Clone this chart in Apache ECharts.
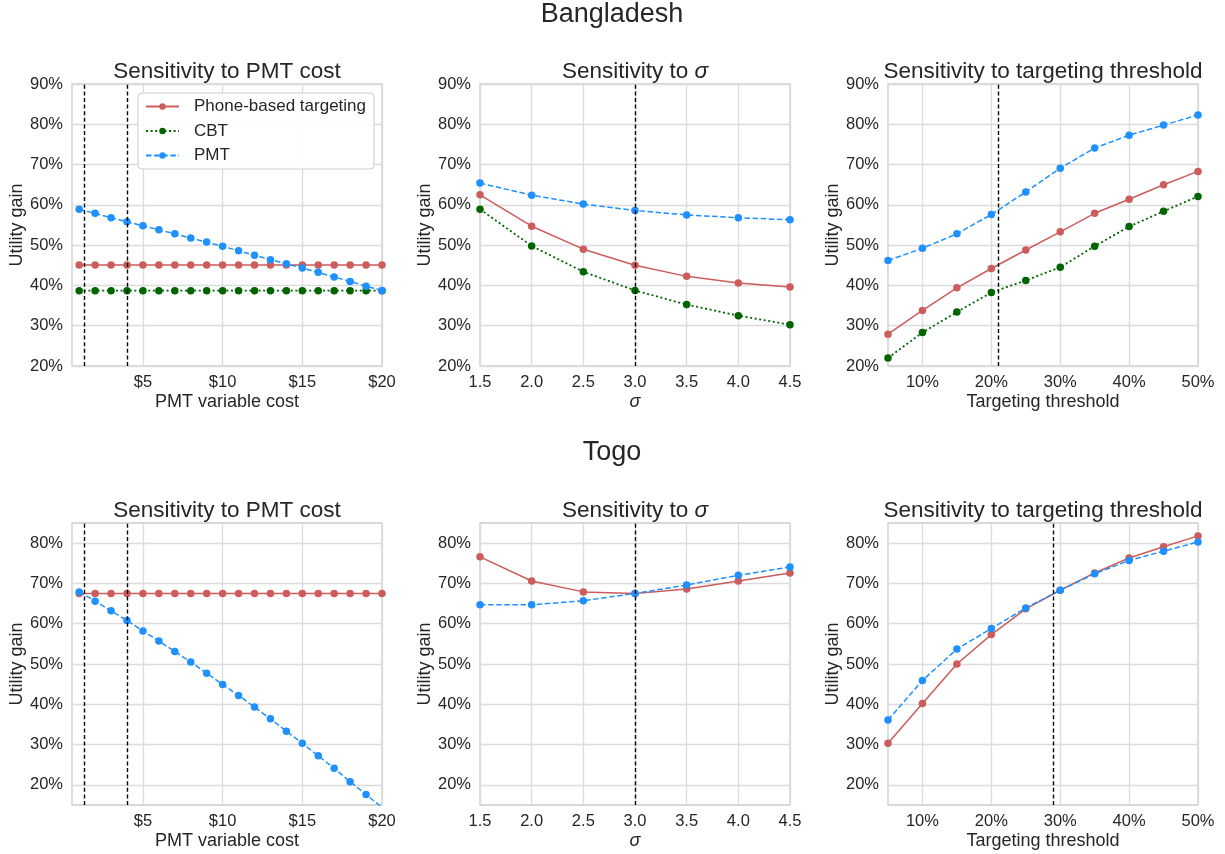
<!DOCTYPE html>
<html>
<head>
<meta charset="utf-8">
<script src="https://cdn.jsdelivr.net/npm/echarts@6/dist/echarts.min.js"></script>
<style>
html, body { margin: 0; padding: 0; background: #fff; }
#chart { width: 1225px; height: 854px; }
</style>
</head>
<body>
<div id="chart"></div>
<script>
// x values
const pmtCost = [1, 2, 3, 4, 5, 6, 7, 8, 9, 10, 11, 12, 13, 14, 15, 16, 17, 18, 19, 20];
const sigmaVals = [1.5, 2.0, 2.5, 3.0, 3.5, 4.0, 4.5];
const thresholds = [5, 10, 15, 20, 25, 30, 35, 40, 45, 50];

// tick labels
const costTicks = [5, 10, 15, 20];
const sigmaTicks = [1.5, 2.0, 2.5, 3.0, 3.5, 4.0, 4.5];
const thrTicks = [10, 20, 30, 40, 50];
const yTicksTop = [20, 30, 40, 50, 60, 70, 80, 90];
const yTicksBottom = [20, 30, 40, 50, 60, 70, 80];

// Bangladesh (utility gain, %)
const bgdCostPhone = [45.1, 45.1, 45.1, 45.1, 45.1, 45.1, 45.1, 45.1, 45.1, 45.1, 45.1, 45.1, 45.1, 45.1, 45.1, 45.1, 45.1, 45.1, 45.1, 45.1];
const bgdCostCbt = [38.7, 38.7, 38.7, 38.7, 38.7, 38.7, 38.7, 38.7, 38.7, 38.7, 38.7, 38.7, 38.7, 38.7, 38.7, 38.7, 38.7, 38.7, 38.7, 38.7];
const bgdCostPmt = [58.9, 57.9, 56.8, 55.8, 54.8, 53.8, 52.8, 51.75, 50.75, 49.7, 48.6, 47.5, 46.4, 45.4, 44.3, 43.25, 42.1, 41.0, 39.8, 38.75];
const bgdSigmaPhone = [62.5, 54.7, 49.0, 45.0, 42.25, 40.6, 39.6];
const bgdSigmaCbt = [58.9, 49.8, 43.4, 38.75, 35.25, 32.5, 30.25];
const bgdSigmaPmt = [65.4, 62.4, 60.2, 58.6, 57.5, 56.8, 56.3];
const bgdThrPhone = [27.9, 33.8, 39.4, 44.2, 48.8, 53.3, 57.9, 61.4, 65.0, 68.3];
const bgdThrCbt = [22.0, 28.3, 33.4, 38.25, 41.25, 44.5, 49.75, 54.6, 58.4, 62.1];
const bgdThrPmt = [46.2, 49.2, 52.8, 57.6, 63.2, 69.1, 74.1, 77.3, 79.8, 82.3];

// Togo (utility gain, %)
const tgoCostPhone = [67.5, 67.5, 67.5, 67.5, 67.5, 67.5, 67.5, 67.5, 67.5, 67.5, 67.5, 67.5, 67.5, 67.5, 67.5, 67.5, 67.5, 67.5, 67.5, 67.5];
const tgoCostPmt = [67.9, 65.6, 63.2, 60.8, 58.2, 55.7, 53.1, 50.5, 47.7, 44.9, 42.2, 39.3, 36.4, 33.3, 30.3, 27.2, 24.1, 20.8, 17.6, 14.4];
const tgoSigmaPhone = [76.6, 70.6, 67.9, 67.5, 68.6, 70.6, 72.6];
const tgoSigmaPmt = [64.7, 64.7, 65.7, 67.5, 69.6, 72.0, 74.1];
const tgoThrPhone = [30.3, 40.2, 50.0, 57.3, 63.7, 68.3, 72.6, 76.3, 79.1, 81.8];
const tgoThrPmt = [36.1, 45.9, 53.7, 58.8, 63.9, 68.3, 72.4, 75.7, 78.0, 80.3];

// reference lines
const costVlines = [1.3, 4];
const sigmaVline = [3];
const bgdThrVline = [21];
const tgoThrVline = [29];

const font = "'Liberation Sans', Arial, sans-serif";
const ink = '#262626';
const colLeft = [72, 480, 888];
const rowTop = [84, 523];
const plotW = 310, plotH = 282;

const styles = {
    'Phone-based targeting': { color: '#CD5C5C', type: 'solid', width: 1.5 },
    'CBT': { color: '#006400', type: [2, 2.6], width: 1.8 },
    'PMT': { color: '#1E90FF', type: [5.5, 2.6], width: 1.5 }
};

const costFmt = v => '$' + v;
const sigmaFmt = v => Number(v).toFixed(1);
const pctFmt = v => v + '%';

const panels = [
    { row: 0, col: 0, title: 'Sensitivity to PMT cost', xs: pmtCost, xMin: 0.55, xMax: 20, xTicks: costTicks, xFmt: costFmt, xName: 'PMT variable cost',
      yMin: 20, yMax: 90, yTicks: yTicksTop, vlines: costVlines,
      lines: [['Phone-based targeting', bgdCostPhone], ['CBT', bgdCostCbt], ['PMT', bgdCostPmt]] },
    { row: 0, col: 1, title: 'Sensitivity to {i|σ}', xs: sigmaVals, xMin: 1.5, xMax: 4.5, xTicks: sigmaTicks, xFmt: sigmaFmt, xName: 'σ',
      yMin: 20, yMax: 90, yTicks: yTicksTop, vlines: sigmaVline,
      lines: [['Phone-based targeting', bgdSigmaPhone], ['CBT', bgdSigmaCbt], ['PMT', bgdSigmaPmt]] },
    { row: 0, col: 2, title: 'Sensitivity to targeting threshold', xs: thresholds, xMin: 5, xMax: 50, xTicks: thrTicks, xFmt: pctFmt, xName: 'Targeting threshold',
      yMin: 20, yMax: 90, yTicks: yTicksTop, vlines: bgdThrVline,
      lines: [['Phone-based targeting', bgdThrPhone], ['CBT', bgdThrCbt], ['PMT', bgdThrPmt]] },
    { row: 1, col: 0, title: 'Sensitivity to PMT cost', xs: pmtCost, xMin: 0.55, xMax: 20, xTicks: costTicks, xFmt: costFmt, xName: 'PMT variable cost',
      yMin: 15, yMax: 85, yTicks: yTicksBottom, vlines: costVlines,
      lines: [['Phone-based targeting', tgoCostPhone], ['PMT', tgoCostPmt]] },
    { row: 1, col: 1, title: 'Sensitivity to {i|σ}', xs: sigmaVals, xMin: 1.5, xMax: 4.5, xTicks: sigmaTicks, xFmt: sigmaFmt, xName: 'σ',
      yMin: 15, yMax: 85, yTicks: yTicksBottom, vlines: sigmaVline,
      lines: [['Phone-based targeting', tgoSigmaPhone], ['PMT', tgoSigmaPmt]] },
    { row: 1, col: 2, title: 'Sensitivity to targeting threshold', xs: thresholds, xMin: 5, xMax: 50, xTicks: thrTicks, xFmt: pctFmt, xName: 'Targeting threshold',
      yMin: 15, yMax: 85, yTicks: yTicksBottom, vlines: tgoThrVline,
      lines: [['Phone-based targeting', tgoThrPhone], ['PMT', tgoThrPmt]] }
];

const grid = [], xAxis = [], yAxis = [], series = [];
const graphic = [
    { type: 'text', x: 612, y: 15, style: { text: 'Bangladesh', fontSize: 27, fontFamily: font, fill: ink, align: 'center', verticalAlign: 'middle' } },
    { type: 'text', x: 612, y: 453, style: { text: 'Togo', fontSize: 27, fontFamily: font, fill: ink, align: 'center', verticalAlign: 'middle' } }
];

panels.forEach((p, i) => {
    const left = colLeft[p.col], top = rowTop[p.row];
    grid.push({
        left: left, top: top, width: plotW, height: plotH,
        show: true, borderColor: '#cccccc', borderWidth: 1.3, backgroundColor: '#fff',
        outerBoundsMode: 'none'
    });
    graphic.push({
        type: 'text', x: left + plotW / 2, y: top - 12,
        style: {
            text: p.title, fontSize: 22.5, fontFamily: font, fill: ink, align: 'center', verticalAlign: 'middle',
            rich: { i: { fontStyle: 'italic', fontSize: 22.5, fontFamily: font, fill: ink } }
        }
    });
    const splitLine = { show: true, lineStyle: { color: '#dcdcdc', width: 1.3 } };
    xAxis.push({
        type: 'value', gridIndex: i, min: p.xMin, max: p.xMax,
        name: p.xName, nameLocation: 'middle', nameGap: 27,
        nameTextStyle: { fontSize: 18, fontFamily: font, color: ink, fontStyle: p.xName === 'σ' ? 'italic' : 'normal' },
        axisLine: { show: false }, axisTick: { show: false, customValues: p.xTicks },
        axisLabel: { customValues: p.xTicks, formatter: p.xFmt, fontSize: 16.5, fontFamily: font, color: ink, margin: 8 },
        splitLine: splitLine
    });
    yAxis.push({
        type: 'value', gridIndex: i, min: p.yMin, max: p.yMax,
        name: 'Utility gain', nameLocation: 'middle', nameGap: 46, nameRotate: 90,
        nameTextStyle: { fontSize: 18, fontFamily: font, color: ink },
        axisLine: { show: false }, axisTick: { show: false, customValues: p.yTicks },
        axisLabel: { customValues: p.yTicks, formatter: pctFmt, fontSize: 16.5, fontFamily: font, color: ink, margin: 9 },
        splitLine: splitLine
    });
    p.lines.forEach(([name, vals], k) => {
        const st = styles[name];
        const s = {
            name: name, type: 'line', xAxisIndex: i, yAxisIndex: i,
            data: p.xs.map((x, j) => [x, vals[j]]),
            symbol: 'circle', symbolSize: 7.5, showSymbol: true,
            itemStyle: { color: st.color },
            lineStyle: { color: st.color, type: st.type, width: st.width },
            emphasis: { disabled: true },
            clip: true, z: 2 + k
        };
        if (k === 0) {
            s.markLine = {
                silent: true, symbol: ['none', 'none'], label: { show: false },
                lineStyle: { color: '#000', type: [4, 2.6], width: 1.4 },
                emphasis: { disabled: true },
                data: p.vlines.map(v => ({ xAxis: v }))
            };
        }
        series.push(s);
    });
});

const chart = echarts.init(document.getElementById('chart'));
chart.setOption({
    animation: false,
    backgroundColor: '#fff',
    textStyle: { fontFamily: font },
    grid: grid,
    xAxis: xAxis,
    yAxis: yAxis,
    graphic: graphic,
    legend: {
        data: ['Phone-based targeting', 'CBT', 'PMT'],
        orient: 'vertical', left: 138, top: 93,
        itemWidth: 33, itemHeight: 8, itemGap: 7.5,
        padding: [5, 8, 5, 7],
        backgroundColor: 'rgba(255,255,255,0.85)', borderColor: '#cccccc', borderWidth: 1, borderRadius: 4,
        textStyle: { fontSize: 17, fontFamily: font, color: ink, padding: [0, 0, 0, 10] },
        selectedMode: false
    },
    series: series
});
</script>
</body>
</html>
